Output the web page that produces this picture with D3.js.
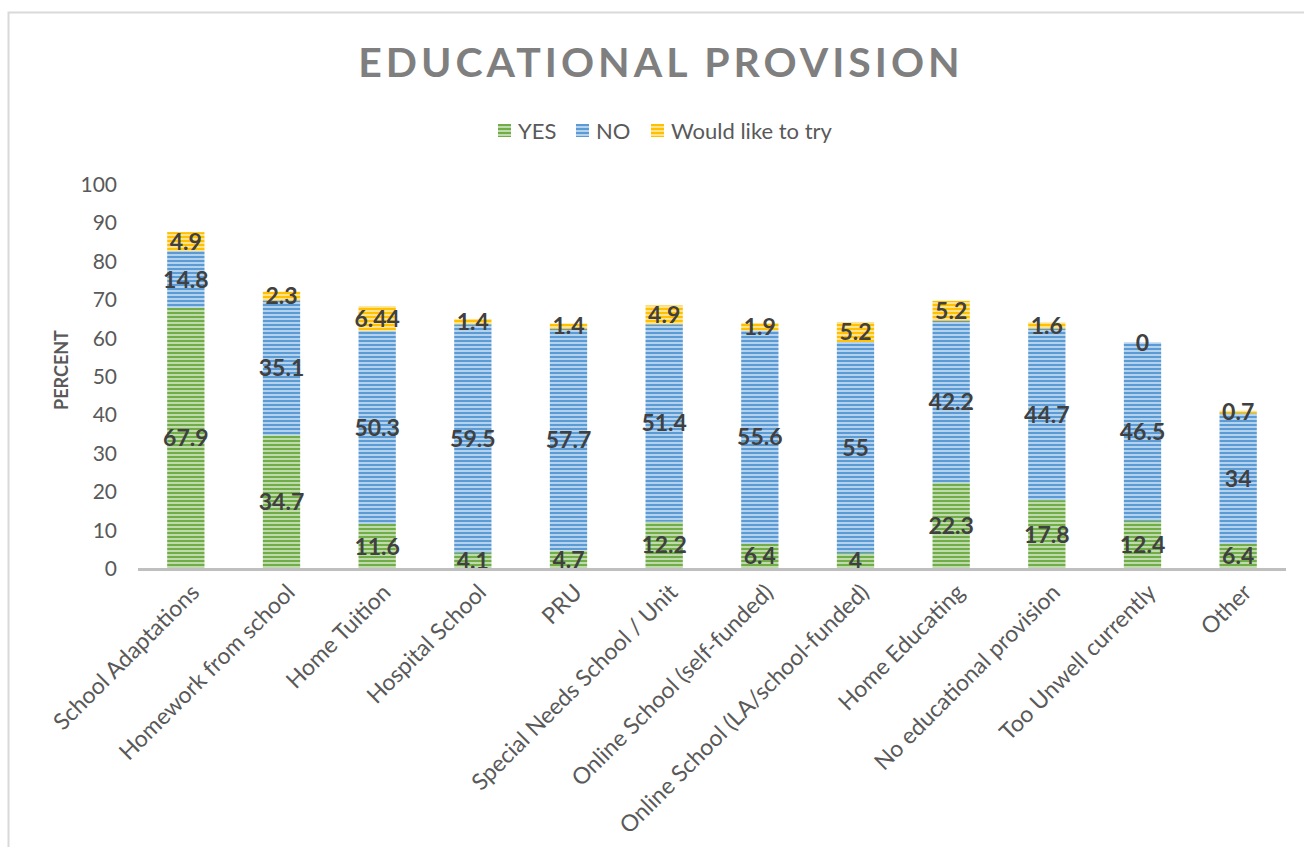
<!DOCTYPE html>
<html><head><meta charset="utf-8">
<script src="https://cdn.jsdelivr.net/npm/d3@7"></script>
<style>body{margin:0;background:#fff}svg{display:block}</style>
</head><body>
<script>
const categories = ["School Adaptations","Homework from school","Home Tuition","Hospital School","PRU","Special Needs School / Unit","Online School (self-funded)","Online School (LA/school-funded)","Home Educating","No educational provision","Too Unwell currently","Other"];
const yesValues = [67.9,34.7,11.6,4.1,4.7,12.2,6.4,4,22.3,17.8,12.4,6.4];
const noValues = [14.8,35.1,50.3,59.5,57.7,51.4,55.6,55,42.2,44.7,46.5,34];
const tryValues = [4.9,2.3,6.44,1.4,1.4,4.9,1.9,5.2,5.2,1.6,0,0.7];
const seriesNames = ["YES","NO","Would like to try"];
const yTicks = [0,10,20,30,40,50,60,70,80,90,100];
const colors = ["#70ad47","#5b9bd5","#ffc000"];

const W=1304,H=847;
const svg=d3.select("body").append("svg").attr("width",W).attr("height",H);
const font="Lato, 'Open Sans', sans-serif";

// border
svg.append("rect").attr("x",8.5).attr("y",12.5).attr("width",W+20).attr("height",H+20)
  .attr("fill","none").attr("stroke","#d9d9d9").attr("stroke-width",2);

// patterns
const defs=svg.append("defs");
colors.forEach((c,i)=>{
  const p=defs.append("pattern").attr("id","pat"+i).attr("patternUnits","userSpaceOnUse")
    .attr("width",8).attr("height",4);
  p.append("rect").attr("width",8).attr("height",4).attr("fill",c);
  p.append("rect").attr("y",2).attr("width",8).attr("height",2).attr("fill","#fff").attr("opacity",0.55);
});

const x=d3.scaleBand().domain(categories).range([138,1286]).paddingInner(0.61).paddingOuter(0.305);
const y=d3.scaleLinear().domain([0,100]).range([568.5,184.5]);

const table=categories.map((c,i)=>({cat:c,YES:yesValues[i],NO:noValues[i],"Would like to try":tryValues[i]}));
const stacked=d3.stack().keys(seriesNames)(table);

stacked.forEach((s,si)=>{
  const g=svg.append("g");
  g.selectAll("rect").data(s).join("rect")
    .attr("x",d=>x(d.data.cat)).attr("width",x.bandwidth())
    .attr("y",d=>y(d[1])).attr("height",d=>y(d[0])-y(d[1]))
    .attr("fill","url(#pat"+si+")");
});
stacked.forEach((s,si)=>{
  svg.append("g").selectAll("text").data(s).join("text")
    .attr("x",d=>x(d.data.cat)+x.bandwidth()/2)
    .attr("y",d=>y((d[0]+d[1])/2))
    .attr("dy","0.36em").attr("text-anchor","middle")
    .attr("font-family",font).attr("font-weight","bold").attr("font-size",23)
    .attr("fill","#404040")
    .text(d=>d.data[s.key]);
});

// x axis line
svg.append("line").attr("x1",138).attr("x2",1286).attr("y1",569.5).attr("y2",569.5)
  .attr("stroke","#bfbfbf").attr("stroke-width",3);

// y tick labels
svg.append("g").selectAll("text").data(yTicks).join("text")
  .attr("x",117).attr("y",d=>y(d)).attr("dy","0.36em").attr("text-anchor","end")
  .attr("font-family",font).attr("font-size",21).attr("fill","#595959").text(d=>d);

// y title
svg.append("text").attr("transform","translate(68,370) rotate(-90)").attr("text-anchor","middle")
  .attr("font-family",font).attr("font-weight","bold").attr("font-size",18).attr("fill","#595959").text("PERCENT");

// x labels
svg.append("g").selectAll("text").data(categories).join("text")
  .attr("transform",d=>`translate(${x(d)+x.bandwidth()/2+9},${588}) rotate(-45)`)
  .attr("text-anchor","end").attr("dy","0.36em")
  .attr("font-family",font).attr("font-size",23).attr("fill","#595959").text(d=>d);

// title
svg.append("text").attr("x",661).attr("y",77).attr("text-anchor","middle")
  .attr("font-family",font).attr("font-weight","bold").attr("font-size",41).attr("letter-spacing",4)
  .attr("fill","#7f7f7f").text("EDUCATIONAL PROVISION");

// legend
const legX=[498,576,651];
const lg=svg.append("g");
seriesNames.forEach((n,i)=>{
  lg.append("rect").attr("x",legX[i]).attr("y",124).attr("width",13).attr("height",13).attr("fill","url(#pat"+i+")");
  lg.append("text").attr("x",legX[i]+20).attr("y",131).attr("dy","0.36em")
    .attr("font-family",font).attr("font-size",22).attr("fill","#595959").text(n);
});
</script>
</body></html>
